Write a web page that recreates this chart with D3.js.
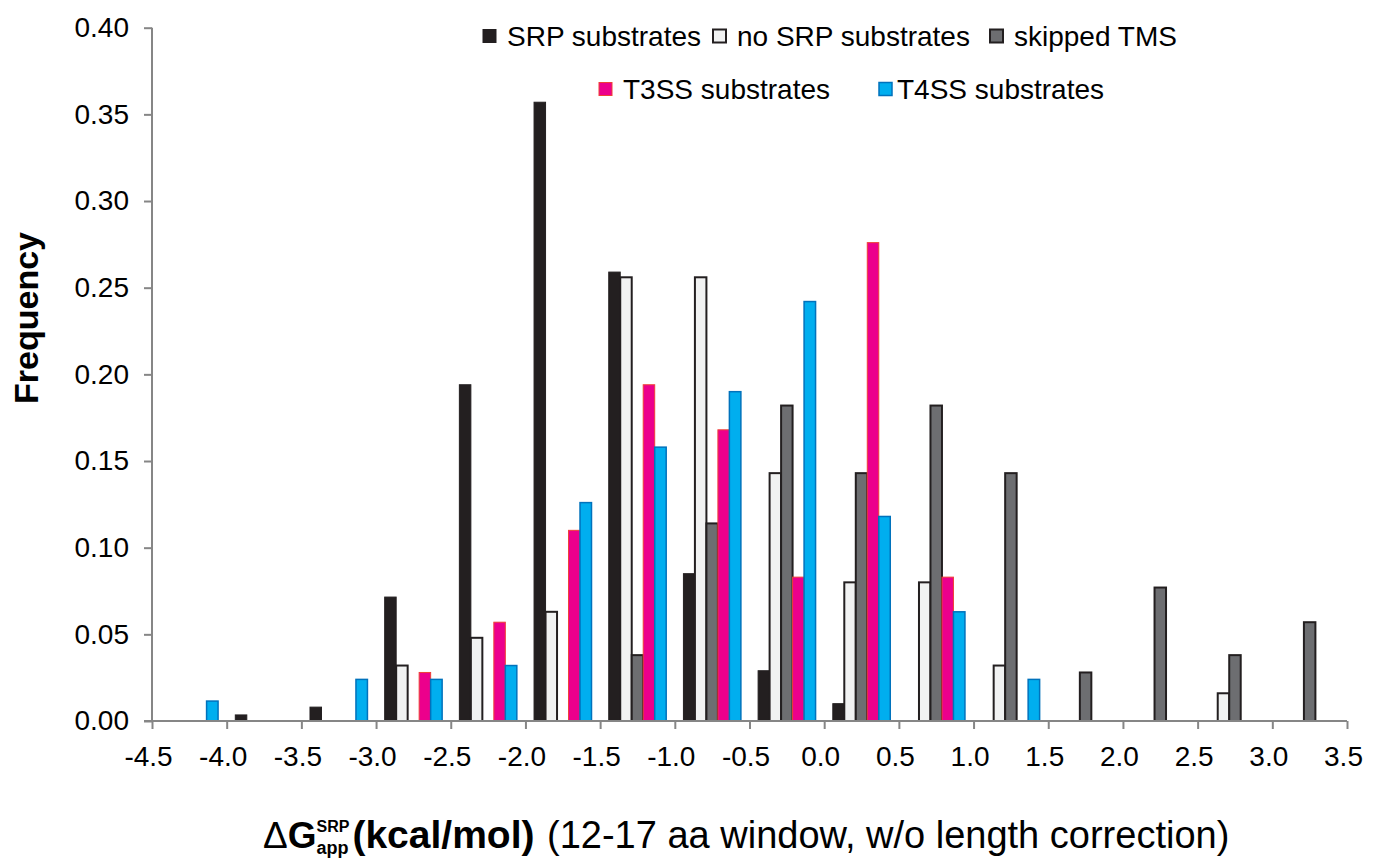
<!DOCTYPE html>
<html><head><meta charset="utf-8">
<script src="https://cdn.jsdelivr.net/npm/d3@7"></script>
<style>body{margin:0;background:#fff}svg{display:block}</style>
</head><body>
<svg id="c" width="1386" height="861"></svg>
<script>
const bins = [-4.25,-3.75,-3.25,-2.75,-2.25,-1.75,-1.25,-0.75,-0.25,0.25,0.75,1.25,1.75,2.25,2.75,3.25];
const seriesNames = ["SRP substrates","no SRP substrates","skipped TMS","T3SS substrates","T4SS substrates"];
const srp     = [0,0.0035,0.008,0.0715,0.194,0.357,0.259,0.085,0.029,0.010,0,0,0,0,0,0];
const noSrp   = [0,0,0,0.032,0.048,0.063,0.256,0.256,0.143,0.080,0.080,0.032,0,0,0.016,0];
const skipped = [0,0,0,0,0,0,0.038,0.114,0.182,0.143,0.182,0.143,0.028,0.077,0.038,0.057];
const t3ss    = [0,0,0,0.028,0.057,0.110,0.194,0.168,0.083,0.276,0.083,0,0,0,0,0];
const t4ss    = [0.0115,0,0.024,0.024,0.032,0.126,0.158,0.190,0.242,0.118,0.063,0.024,0,0,0,0];
const xTicks = [-4.5,-4.0,-3.5,-3.0,-2.5,-2.0,-1.5,-1.0,-0.5,0.0,0.5,1.0,1.5,2.0,2.5,3.0,3.5];
const yTicks = [0,0.05,0.10,0.15,0.20,0.25,0.30,0.35,0.40];

const styles = [
  {fill:"#231f20", stroke:"#231f20", sw:1},
  {fill:"#f1f2f2", stroke:"#231f20", sw:2},
  {fill:"#6d6e71", stroke:"#231f20", sw:2},
  {fill:"#ec008c", stroke:"#ef4136", sw:1},
  {fill:"#00aeef", stroke:"#0072bc", sw:1.5}
];
const values = [srp,noSrp,skipped,t3ss,t4ss];

const svg = d3.select("#c");
const FONT = "'Liberation Sans', Arial, sans-serif";
const x = d3.scaleLinear().domain([-4.5,3.5]).range([152,1347]);
const y = d3.scaleLinear().domain([0,0.40]).range([721,27.7]);
const catW = x(0.5)-x(0);
const barW = catW/6.5;

// bars
values.forEach((vals,si)=>{
  const st = styles[si];
  svg.append("g").selectAll("rect").data(bins.map((b,i)=>({b,v:vals[i]})).filter(d=>d.v>0))
    .join("rect")
    .attr("x", d=>x(d.b) - 2.5*barW + si*barW)
    .attr("y", d=>y(d.v))
    .attr("width", barW)
    .attr("height", d=>y(0)-y(d.v))
    .attr("fill", st.fill).attr("stroke", st.stroke).attr("stroke-width", st.sw);
});

// axes
const fmtX = d => d3.format(".1f")(d).replace("\u2212","-");
const yAxis = svg.append("g").attr("transform",`translate(${x(-4.5)},0)`)
  .call(d3.axisLeft(y).tickValues(yTicks).tickFormat(d3.format(".2f")).tickSize(8).tickPadding(15));
const xAxis = svg.append("g").attr("transform",`translate(0,${y(0)})`)
  .call(d3.axisBottom(x).tickValues(xTicks).tickFormat(fmtX).tickSize(8).tickPadding(17));
[yAxis,xAxis].forEach(a=>{
  a.select(".domain").attr("stroke","#868686").attr("stroke-width",2);
  a.selectAll(".tick line").attr("stroke","#868686").attr("stroke-width",2);
  a.selectAll("text").attr("font-family",FONT).attr("font-size",28).attr("fill","#000");
});
yAxis.select(".domain").attr("d",`M0,${y(0.40)}V${y(0)}`);
xAxis.select(".domain").attr("d",`M${x(-4.5)-8},0H${x(3.5)}`);
xAxis.selectAll(".tick text").attr("dx",-4);

// y title
svg.append("text").attr("transform","translate(38,318) rotate(-90)")
  .attr("text-anchor","middle").attr("font-family",FONT).attr("font-weight","bold")
  .attr("font-size",34).text("Frequency");

// x title
const xt = svg.append("text").attr("x",263).attr("y",848)
  .attr("font-family",FONT).attr("font-size",37);
xt.append("tspan").text("\u0394");
xt.append("tspan").attr("font-weight","bold").text("G");
xt.append("tspan").attr("font-weight","bold").attr("font-size",18).attr("dy",6).text("app");
xt.append("tspan").attr("font-weight","bold").attr("font-size",16).attr("dx",-32).attr("dy",-22).text("SRP");
xt.append("tspan").attr("font-weight","bold").attr("font-size",39).attr("dy",16).attr("dx",3).text("(kcal/mol)");
xt.append("tspan").attr("font-size",38).attr("dx",2).text(" (12-17 aa window, w/o length correction)");

// legend
const legendItems = [
  {i:0, sx:483, ty:36},
  {i:1, sx:713, ty:36},
  {i:2, sx:990, ty:36},
  {i:3, sx:599, ty:89},
  {i:4, sx:879, ty:89}
];
const lg = svg.append("g");
legendItems.forEach(l=>{
  const st = styles[l.i];
  lg.append("rect").attr("x",l.sx).attr("y",l.ty-6.5).attr("width",13).attr("height",13)
    .attr("fill",st.fill).attr("stroke",st.stroke).attr("stroke-width",st.sw);
  lg.append("text").attr("x",l.sx+(l.i===4?18:24)).attr("y",l.ty).attr("dy","0.35em")
    .attr("font-family",FONT).attr("font-size",28).text(seriesNames[l.i]);
});
</script>
</body></html>
